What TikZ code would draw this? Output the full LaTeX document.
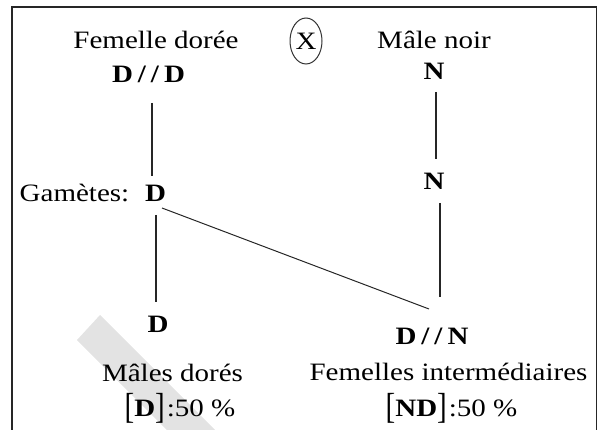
\documentclass[tikz,border=0pt]{standalone}
\usepackage{fontspec}
\setmainfont{Liberation Serif}[FakeStretch=1.16]
\usepackage{graphicx}
\usetikzlibrary{calc,shapes.geometric}
\newcommand{\brk}[1]{\raisebox{-2pt}{\scalebox{1}[1.45]{#1}}}
\newcommand{\dsl}{\kern5pt/\kern5pt/\kern5pt}
\begin{document}
\begin{tikzpicture}[x=1pt,y=-1pt,
  txt/.style={font=\fontsize{25}{30}\selectfont, inner sep=0pt, anchor=base},
  gen/.style={txt, font=\fontsize{25}{30}\selectfont\bfseries},
  link/.style={line width=1.2pt, black!85},
  diag/.style={line width=1pt, black!85}]
\useasboundingbox (0,0) rectangle (599,430);
% watermark band
\fill[black!11] (100,315) -- (77,340) -- (167,430) -- (215,430) -- cycle;
% frame
\begin{scope}
\clip (0,0) rectangle (599,430);
\draw[line width=1.5pt, black!85] (12,7) rectangle (596.5,445);
\end{scope}
% texts
\node[txt] (fem) at (156,49) {Femelle dorée};
\node[txt] (male) at (434,49) {Mâle noir};
\node[draw, ellipse, line width=1pt, black!80, minimum width=32pt, minimum height=46pt, inner sep=0pt,
      font=\fontsize{25}{30}\selectfont, text=black] (cross) at (306,41) {X};
\node[gen] (DD) at (148.5,83) {D\dsl D};
\node[gen] (Ntop) at (434,80) {N};
\node[gen] (Nmid) at (434,190) {N};
\node[txt] (gam) at (74.5,202) {Gamètes:};
\node[gen] (Dg) at (155.5,202) {D};
\node[gen] (Dbot) at (158,332) {D};
\node[gen] (DN) at (432,344) {D\dsl N};
\node[txt] (mal) at (172.5,381) {Mâles dorés};
\node[txt] (fi) at (448.5,380) {Femelles intermédiaires};
\node[txt] (pD) at (180,416) {\brk{[}\textbf{D}\brk{]}\kern2pt:50 \%};
\node[txt] (pND) at (451.5,416) {\brk{[}\textbf{ND}\brk{]}\kern2pt:50 \%};
% connectors
\draw[link] ([xshift=3.5pt,yshift=-20pt]DD.base) -- ([xshift=-3.5pt,yshift=26pt]Dg.base);
\draw[link] ([xshift=2pt,yshift=-12pt]Ntop.base) -- ([xshift=2pt,yshift=31pt]Nmid.base);
\draw[link] ([xshift=6pt,yshift=-13pt]Nmid.base) -- ([xshift=8pt,yshift=47pt]DN.base);
\draw[link] ([xshift=0.5pt,yshift=-13pt]Dg.base) -- ([xshift=-2pt,yshift=30pt]Dbot.base);
\draw[diag] ([xshift=6.5pt,yshift=-6pt]Dg.base) -- ([xshift=-3pt,yshift=35pt]DN.base);
\end{tikzpicture}
\end{document}
